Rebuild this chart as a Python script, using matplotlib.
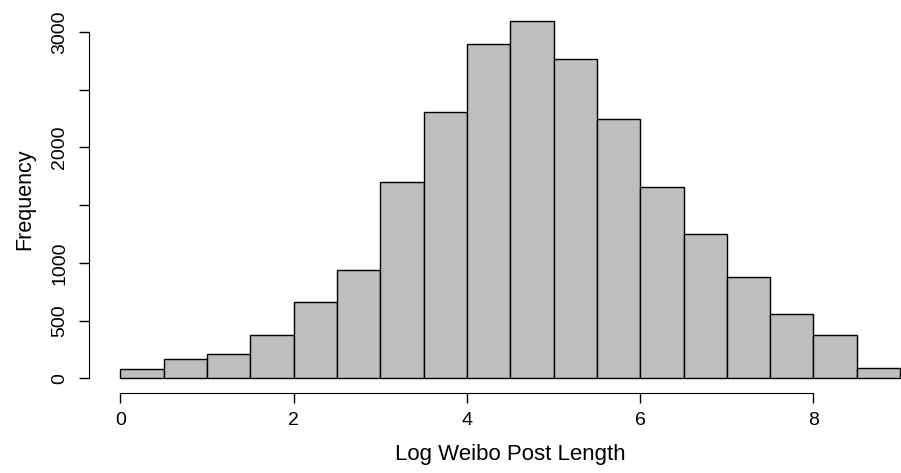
import numpy as np
import matplotlib
matplotlib.use("Agg")
import matplotlib.pyplot as plt

plt.rcParams['font.family'] = ['Liberation Sans', 'DejaVu Sans']

# histogram bins (log post length) and counts
bin_edges = [0, 0.5, 1, 1.5, 2, 2.5, 3, 3.5, 4, 4.5, 5, 5.5, 6, 6.5, 7, 7.5, 8, 8.5, 9]
counts = [78, 165, 210, 375, 662, 939, 1697, 2305, 2897, 3095, 2765, 2247,
          1659, 1251, 878, 557, 376, 87]
x_ticks = [0, 2, 4, 6, 8]
y_ticks = [0, 500, 1000, 1500, 2000, 2500, 3000]
y_labels = ['0', '500', '1000', '', '2000', '', '3000']

fig = plt.figure(figsize=(9.01, 4.73), dpi=100)
# plot region runs past the right edge, like the cropped R figure
ax = fig.add_axes([89.3 / 901, 0.1698, (931.3 - 89.3) / 901, 0.816])

edges = np.array(bin_edges)
ax.bar(edges[:-1], counts, width=np.diff(edges), align='edge',
       color='#bebebe', edgecolor='black', linewidth=1.0)

ax.set_xlim(-0.36, 9.36)
ax.set_ylim(-125, 3220)

for s in ['top', 'right']:
    ax.spines[s].set_visible(False)
ax.spines['bottom'].set_bounds(0, 8)
ax.spines['left'].set_bounds(0, 3000)

ax.set_xticks(x_ticks)
ax.set_xticklabels([str(t) for t in x_ticks])
ax.set_yticks(y_ticks)
ax.set_yticklabels(y_labels, rotation=90, va='center')
ax.tick_params(axis='both', length=7, width=1, labelsize=14, color='black')
ax.tick_params(axis='x', pad=7)
ax.tick_params(axis='y', pad=8)

ax.set_xlabel('Log Weibo Post Length', fontsize=16, labelpad=11)
ax.set_ylabel('Frequency', fontsize=15.5, labelpad=12)

fig.savefig('out.png', dpi=100)
